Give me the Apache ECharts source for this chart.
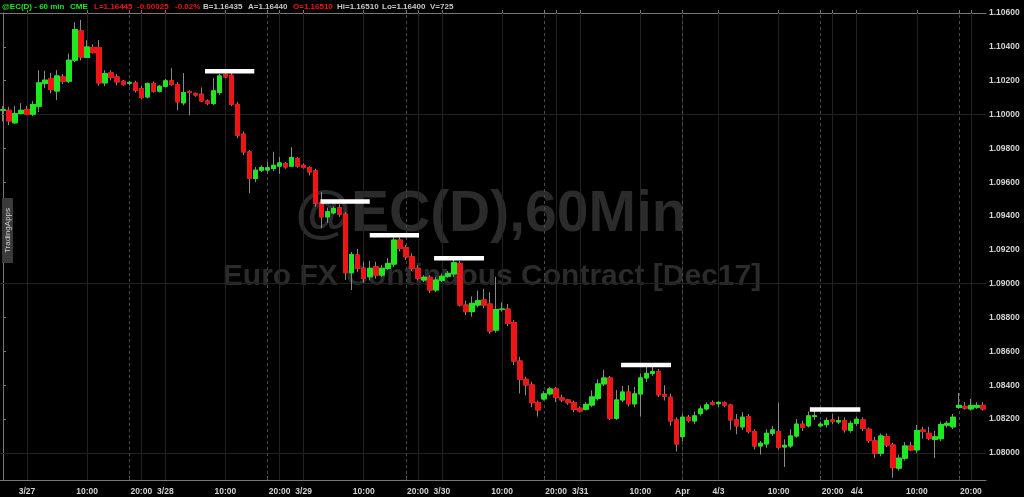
<!DOCTYPE html>
<html><head><meta charset="utf-8">
<script src="https://cdn.jsdelivr.net/npm/echarts@6/dist/echarts.min.js"></script>
<style>html,body{margin:0;padding:0;background:#000;}#c{width:1024px;height:497px;}</style>
</head><body><div id="c"></div>
<script>
// trading sessions: [day, first hour, last hour] (hourly bars, stamped at close)
const sessions = [['3/26',20,23],['3/27',0,16],['3/27',18,23],['3/28',0,16],['3/28',18,23],['3/29',0,16],['3/29',18,23],['3/30',0,16],['3/30',18,23],['3/31',0,16],['4/2',18,23],['4/3',0,16],['4/3',18,23],['4/4',0,16],['4/4',18,22]];

const open = [
1.10025,1.10025,1.09951,1.10006,1.10030,1.10002,1.10049,1.10183,1.10213,1.10139,
1.10222,1.10197,1.10321,1.10494,1.10337,1.10396,1.10396,1.10187,1.10246,1.10222,
1.10197,1.10185,1.10187,1.10153,1.10104,1.10183,1.10138,1.10167,1.10199,1.10177,
1.10069,1.10135,1.10125,1.10120,1.10080,1.10065,1.10130,1.10236,1.10232,1.10060,
1.09884,1.09779,1.09622,1.09671,1.09672,1.09681,1.09695,1.09710,1.09695,1.09740,
1.09700,1.09687,1.09667,1.09478,1.09395,1.09419,1.09449,1.09411,1.09065,1.09170,
1.09091,1.09041,1.09100,1.09051,1.09091,1.09116,1.09258,1.09213,1.09159,1.09091,
1.09022,1.09038,1.08963,1.09020,1.09044,1.09058,1.09120,1.08874,1.08835,1.08874,
1.08904,1.08880,1.08726,1.08848,1.08850,1.08770,1.08543,1.08435,1.08402,1.08297,
1.08319,1.08349,1.08378,1.08325,1.08313,1.08297,1.08264,1.08258,1.08283,1.08323,
1.08408,1.08443,1.08205,1.08313,1.08360,1.08290,1.08349,1.08443,1.08470,1.08480,
1.08345,1.08329,1.08195,1.08096,1.08211,1.08189,1.08232,1.08260,1.08297,1.08291,
1.08297,1.08283,1.08195,1.08154,1.08215,1.08126,1.08041,1.08053,1.08116,1.08126,
1.08035,1.08041,1.08100,1.08170,1.08160,1.08215,1.08160,1.08167,1.08195,1.08183,
1.08191,1.08134,1.08175,1.08195,1.08140,1.08071,1.07998,1.08096,1.08047,1.07910,
1.07969,1.08041,1.08018,1.08136,1.08116,1.08080,1.08084,1.08164,1.08154,1.08269,
1.08275,1.08260,1.08270,1.08281];
const high = [
1.10050,1.10045,1.10050,1.10067,1.10050,1.10080,1.10262,1.10258,1.10245,1.10262,
1.10240,1.10360,1.10545,1.10560,1.10439,1.10415,1.10440,1.10262,1.10262,1.10240,
1.10205,1.10200,1.10200,1.10170,1.10190,1.10195,1.10175,1.10210,1.10274,1.10193,
1.10245,1.10143,1.10130,1.10160,1.10090,1.10215,1.10240,1.10250,1.10245,1.10075,
1.09900,1.09790,1.09690,1.09700,1.09720,1.09780,1.09750,1.09720,1.09807,1.09750,
1.09710,1.09695,1.09680,1.09543,1.09450,1.09455,1.09470,1.09425,1.09189,1.09205,
1.09130,1.09135,1.09130,1.09110,1.09150,1.09287,1.09275,1.09230,1.09180,1.09110,
1.09050,1.09050,1.09040,1.09060,1.09075,1.09160,1.09135,1.08900,1.08925,1.08960,
1.08970,1.08950,1.09041,1.08890,1.08880,1.08785,1.08568,1.08450,1.08420,1.08310,
1.08365,1.08390,1.08390,1.08345,1.08320,1.08310,1.08275,1.08300,1.08370,1.08435,
1.08490,1.08455,1.08372,1.08396,1.08400,1.08390,1.08470,1.08510,1.08510,1.08495,
1.08400,1.08350,1.08210,1.08230,1.08225,1.08245,1.08280,1.08300,1.08310,1.08305,
1.08305,1.08290,1.08230,1.08240,1.08230,1.08140,1.08070,1.08140,1.08160,1.08297,
1.08080,1.08140,1.08200,1.08190,1.08245,1.08250,1.08185,1.08210,1.08230,1.08215,
1.08210,1.08190,1.08215,1.08210,1.08150,1.08095,1.08115,1.08115,1.08060,1.07990,
1.08065,1.08065,1.08165,1.08155,1.08155,1.08130,1.08185,1.08190,1.08230,1.08355,
1.08300,1.08320,1.08300,1.08300];
const low = [
1.09960,1.09937,1.09945,1.10000,1.09995,1.09990,1.10015,1.10155,1.10125,1.10085,
1.10180,1.10185,1.10310,1.10320,1.10333,1.10360,1.10170,1.10167,1.10203,1.10172,
1.10170,1.10170,1.10130,1.10090,1.10095,1.10130,1.10130,1.10160,1.10170,1.10025,
1.10055,1.09996,1.10105,1.10075,1.10055,1.10055,1.10115,1.10215,1.10050,1.09860,
1.09760,1.09535,1.09600,1.09660,1.09650,1.09665,1.09650,1.09680,1.09690,1.09685,
1.09680,1.09640,1.09455,1.09329,1.09360,1.09410,1.09395,1.09022,1.08963,1.09070,
1.09005,1.09020,1.09030,1.09040,1.09080,1.09100,1.09190,1.09140,1.09075,1.09020,
1.09010,1.08945,1.08950,1.09010,1.09035,1.09040,1.08865,1.08815,1.08805,1.08860,
1.08855,1.08705,1.08710,1.08835,1.08750,1.08520,1.08352,1.08340,1.08270,1.08215,
1.08310,1.08340,1.08300,1.08300,1.08285,1.08240,1.08240,1.08250,1.08270,1.08310,
1.08395,1.08195,1.08195,1.08300,1.08275,1.08270,1.08215,1.08420,1.08455,1.08330,
1.08310,1.08160,1.08008,1.08070,1.08180,1.08170,1.08220,1.08250,1.08280,1.08270,
1.08270,1.08136,1.08110,1.08135,1.08115,1.08020,1.07990,1.08030,1.08100,1.08020,
1.07917,1.08030,1.08090,1.08130,1.08150,1.08195,1.08150,1.08150,1.08170,1.08170,
1.08120,1.08120,1.08160,1.08130,1.08060,1.07970,1.07980,1.08035,1.07853,1.07895,
1.07955,1.08010,1.08000,1.08085,1.08075,1.07970,1.08070,1.08150,1.08140,1.08260,
1.08255,1.08250,1.08260,1.08250];
const close = [
1.10028,1.09962,1.10006,1.10025,1.10000,1.10059,1.10187,1.10203,1.10148,1.10228,
1.10197,1.10321,1.10502,1.10340,1.10399,1.10366,1.10187,1.10242,1.10219,1.10193,
1.10177,1.10190,1.10143,1.10100,1.10183,1.10138,1.10167,1.10199,1.10177,1.10075,
1.10130,1.10130,1.10115,1.10080,1.10065,1.10140,1.10228,1.10222,1.10060,1.09878,
1.09779,1.09622,1.09671,1.09687,1.09685,1.09700,1.09714,1.09690,1.09746,1.09695,
1.09687,1.09661,1.09475,1.09395,1.09425,1.09445,1.09411,1.09065,1.09173,1.09091,
1.09032,1.09091,1.09051,1.09091,1.09120,1.09258,1.09209,1.09159,1.09091,1.09032,
1.09038,1.08963,1.09022,1.09044,1.09061,1.09124,1.08874,1.08835,1.08884,1.08900,
1.08874,1.08720,1.08848,1.08850,1.08766,1.08543,1.08435,1.08402,1.08297,1.08254,
1.08349,1.08378,1.08328,1.08313,1.08297,1.08258,1.08248,1.08287,1.08331,1.08408,
1.08443,1.08205,1.08313,1.08360,1.08290,1.08349,1.08443,1.08470,1.08480,1.08343,
1.08335,1.08189,1.08053,1.08211,1.08191,1.08219,1.08260,1.08284,1.08287,1.08299,
1.08283,1.08195,1.08160,1.08211,1.08126,1.08041,1.08057,1.08116,1.08136,1.08033,
1.08045,1.08100,1.08170,1.08150,1.08219,1.08219,1.08170,1.08191,1.08185,1.08191,
1.08136,1.08175,1.08199,1.08146,1.08073,1.07998,1.08100,1.08047,1.07913,1.07969,
1.08041,1.08018,1.08132,1.08126,1.08087,1.08095,1.08168,1.08175,1.08211,1.08281,
1.08265,1.08281,1.08281,1.08260];

// x tick labels
const tickCats = ['3/27 00:00','3/27 10:00','3/27 20:00','3/28 00:00','3/28 10:00','3/28 20:00','3/29 00:00','3/29 10:00','3/29 20:00','3/30 00:00','3/30 10:00','3/30 20:00','3/31 00:00','3/31 10:00','4/2 18:00','4/3 00:00','4/3 10:00','4/3 20:00','4/4 00:00','4/4 10:00','4/4 20:00'];
const tickTexts = ['3/27','10:00','20:00','3/28','10:00','20:00','3/29','10:00','20:00','3/30','10:00','20:00','3/31','10:00','Apr','4/3','10:00','20:00','4/4','10:00','20:00'];
const sessionStarts = ['3/27 18:00','3/28 18:00','3/29 18:00','3/30 18:00','4/2 18:00','4/3 18:00','4/4 18:00'];
// y tick labels
const yTicks = [1.080,1.082,1.084,1.086,1.088,1.090,1.092,1.094,1.096,1.098,1.100,1.102,1.104,1.106];
// white horizontal level marks: start bar, end bar, price
const levelFrom = [33.6, 52.8, 61.0, 71.7, 102.8, 134.2];
const levelTo = [41.8, 61.0, 69.2, 80.0, 111.1, 142.6];
const levelPrice = [1.10256, 1.09486, 1.09287, 1.09150, 1.08520, 1.08257];

const cats = [];
sessions.forEach(([d,h0,h1]) => { for (let h=h0; h<=h1; h++) cats.push(d+' '+(h<10?'0':'')+h+':00'); });
const N = cats.length;
const labelIdx = tickCats.map(c => cats.indexOf(c));
const sessionIdx = sessionStarts.map(c => cats.indexOf(c));
const labelText = {}; labelIdx.forEach((i,k) => labelText[i] = tickTexts[k]);

const GREEN = '#1ee81e', RED = '#f01414', WICK = '#8a8a8a', AX = '#777';
const FONT = '"Liberation Sans", Arial, sans-serif';

const chart = echarts.init(document.getElementById('c'), null, {renderer:'canvas'});

const header = [
 [2,'@EC(D) - 60 min',GREEN],[70,'CME',GREEN],[94,'L=1.16445',RED],[137,'-0.00025',RED],[175,'-0.02%',RED],
 [203,'B=1.16435','#c8c8c8'],[248,'A=1.16440','#c8c8c8'],[293,'O=1.16510',RED],[337,'Hi=1.16510','#c8c8c8'],
 [382,'Lo=1.16400','#c8c8c8'],[430,'V=725','#c8c8c8']
];

const option = {
  backgroundColor: '#000',
  animation: false,
  grid: {left: 0, right: 38, top: 13, bottom: 17, containLabel: false},
  xAxis: [
    {type:'category', data:cats, gridIndex:0, show:false, boundaryGap:true},
    {type:'value', gridIndex:0, position:'bottom', min:-0.5, max:N-0.5,
     axisLine:{show:true, onZero:false, lineStyle:{color:AX}},
     axisTick:{show:true, inside:true, length:4, customValues: labelIdx.concat(sessionIdx), lineStyle:{color:AX}},
     axisLabel:{customValues: labelIdx, formatter: v => labelText[Math.round(v)] || '', color:'#d4d4d4', fontSize:8.5, fontWeight:'bold', fontFamily:FONT, margin:7},
     splitLine:{show:false}},
    {type:'value', gridIndex:0, position:'top', min:-0.5, max:N-0.5,
     axisLine:{show:true, onZero:false, lineStyle:{color:AX}},
     axisTick:{show:true, length:3, customValues: labelIdx.concat(sessionIdx), lineStyle:{color:AX}},
     axisLabel:{show:false}, splitLine:{show:false}}
  ],
  yAxis: [{type:'value', position:'right', min:1.0784, max:1.106,
    axisLine:{show:true, lineStyle:{color:AX}},
    axisTick:{show:true, length:3, customValues:yTicks, lineStyle:{color:AX}},
    axisLabel:{customValues:yTicks, formatter: v => v.toFixed(5), color:'#d4d4d4', fontSize:8.5, fontWeight:'bold', fontFamily:FONT, margin:3},
    splitLine:{show:false}}],
  graphic: [
    {type:'text', x:491, y:215, z:1, silent:true, style:{text:'@EC(D),60Min', font:'bold 57px '+FONT, fill:'#2b2b2b', textAlign:'center', textVerticalAlign:'middle'}},
    {type:'text', x:492, y:277, z:1, silent:true, style:{text:'Euro FX Continuous Contract [Dec17]', font:'bold 30px '+FONT, fill:'#2b2b2b', textAlign:'center', textVerticalAlign:'middle'}},
    {type:'rect', z:10, shape:{x:2, y:198, width:11, height:65}, style:{fill:'#3a3a3a'}},
    {type:'text', x:7.5, y:230.5, z:11, rotation:Math.PI/2, style:{text:'TradingApps', font:'8px '+FONT, fill:'#cfcfcf', textAlign:'center', textVerticalAlign:'middle'}},
    ...header.map(([x,t,c]) => ({type:'text', x:x, y:7, z:12, style:{text:t, font:'bold 8px '+FONT, fill:c, textAlign:'left', textVerticalAlign:'middle'}}))
  ],
  series: [
    {type:'line', xAxisIndex:1, yAxisIndex:0, data:[], z:1, silent:true,
     markLine:{silent:true, z:1, symbol:['none','none'], label:{show:false}, animation:false,
       data:[
         ...yTicks.map(v => ({yAxis:v, lineStyle:{color:'#222222', type:'solid', width:1}})),
         ...labelIdx.map(i => ({xAxis:i, lineStyle:{color:'#222222', type:'solid', width:1}})),
         ...sessionIdx.map(i => ({xAxis:i, lineStyle:{color:'#4a4a4a', type:[3,3], width:1}}))
       ]}},
    {type:'candlestick', xAxisIndex:0, yAxisIndex:0, z:2, silent:true, barWidth:5,
     data: cats.map((c,i) => [open[i], close[i], low[i], high[i]]),
     itemStyle:{color:WICK, color0:WICK, borderColor:WICK, borderColor0:WICK, borderColorDoji:WICK, borderWidth:1}},
    {type:'candlestick', xAxisIndex:0, yAxisIndex:0, z:3, silent:true, barWidth:5,
     data: cats.map((c,i) => [open[i], close[i], Math.min(open[i],close[i]), Math.max(open[i],close[i])]),
     itemStyle:{color:GREEN, color0:RED, borderColor:GREEN, borderColor0:RED, borderColorDoji:GREEN, borderWidth:1}},
    ...levelFrom.map((f,k) => ({type:'line', xAxisIndex:1, yAxisIndex:0, z:6, silent:true, symbol:'none',
       data:[[f, levelPrice[k]], [levelTo[k], levelPrice[k]]],
       lineStyle:{color:'#ffffff', width:4.5, cap:'butt'}}))
  ]
};
chart.setOption(option);
</script>
</body></html>
